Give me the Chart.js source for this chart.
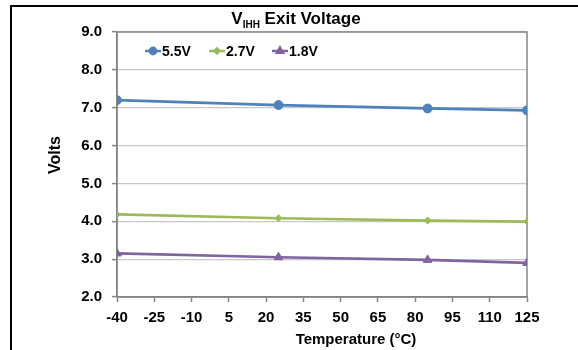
<!DOCTYPE html>
<html>
<head>
<meta charset="utf-8">
<script src="https://cdn.jsdelivr.net/npm/chart.js@4.4.1/dist/chart.umd.min.js"></script>
<style>
  body { margin: 0; background: #fff; }
  #wrap { width: 578px; height: 350px; }
</style>
</head>
<body>
<div id="wrap"><canvas id="grafico" width="578" height="350"></canvas></div>
<script>
// datos
const temperaturas = [-40, 25, 85, 125];
const serie55 = [7.20, 7.07, 6.98, 6.93];
const serie27 = [4.18, 4.08, 4.02, 3.99];
const serie18 = [3.15, 3.05, 2.98, 2.90];
const etiquetas = ['5.5V', '2.7V', '1.8V'];
const colores = ['#4F81BD', '#9BBB59', '#8064A2'];
const marcadores = ['circle', 'rectRot', 'triangle'];
const radios = [4.5, 3.5, 5];

const fuente = '"Liberation Sans", Arial, sans-serif';
const gris = '#868686';

const armarSerie = (valores, i) => ({
    label: etiquetas[i],
    data: temperaturas.map((t, k) => ({ x: t, y: valores[k] })),
    borderColor: colores[i],
    backgroundColor: colores[i],
    borderWidth: 2.7,
    pointStyle: marcadores[i],
    pointRadius: radios[i],
    pointBorderWidth: 1,
    tension: 0
});

const decoracion = {
    id: 'decoracion',
    beforeDatasetsDraw(chart) {
        const { ctx, chartArea: a } = chart;
        ctx.save();
        ctx.strokeStyle = gris;
        ctx.lineWidth = 1.5;
        ctx.strokeRect(a.left, a.top, a.right - a.left, a.bottom - a.top);
        ctx.restore();
    },
    afterDraw(chart) {
        const { ctx } = chart;
        ctx.save();
        ctx.fillStyle = '#000';

        // marco negro
        ctx.fillRect(11, 5, 567, 2);
        ctx.fillRect(10, 5, 2, 345);

        // titulo con subindice
        const big = 'bold 17px ' + fuente, small = 'bold 10px ' + fuente;
        ctx.font = big;
        const wV = ctx.measureText('V').width;
        const wR = ctx.measureText(' Exit Voltage').width;
        ctx.font = small;
        const wS = ctx.measureText('IHH').width;
        let x = 296 - (wV + wS + wR) / 2;
        ctx.textBaseline = 'alphabetic';
        ctx.textAlign = 'left';
        ctx.font = big;
        ctx.fillText('V', x, 24);
        x += wV;
        ctx.font = small;
        ctx.fillText('IHH', x, 28);
        x += wS;
        ctx.font = big;
        ctx.fillText(' Exit Voltage', x, 24);

        // leyenda
        ctx.font = 'bold 14px ' + fuente;
        ctx.textBaseline = 'middle';
        const inicios = [145, 209, 272];
        chart.data.datasets.forEach((ds, i) => {
            const x0 = inicios[i], y0 = 51;
            ctx.strokeStyle = ds.borderColor;
            ctx.lineWidth = 2.5;
            ctx.beginPath();
            ctx.moveTo(x0, y0);
            ctx.lineTo(x0 + 16, y0);
            ctx.stroke();
            ctx.fillStyle = ds.backgroundColor;
            Chart.helpers.drawPoint(ctx, {
                pointStyle: ds.pointStyle, radius: ds.pointRadius * 0.7,
                rotation: 0, borderWidth: 1
            }, x0 + 8, y0);
            ctx.fillStyle = '#000';
            ctx.fillText(ds.label, x0 + 17, y0 + 1);
        });

        // titulos de ejes
        ctx.textAlign = 'center';
        ctx.font = 'bold 15px ' + fuente;
        ctx.fillText('Temperature (°C)', 356, 340);
        ctx.translate(56, 155);
        ctx.rotate(-Math.PI / 2);
        ctx.font = 'bold 16px ' + fuente;
        ctx.fillText('Volts', 0, 0);
        ctx.restore();
    }
};

new Chart(document.getElementById('grafico'), {
    type: 'line',
    data: {
        datasets: [armarSerie(serie55, 0), armarSerie(serie27, 1), armarSerie(serie18, 2)]
    },
    options: {
        responsive: false,
        animation: false,
        layout: { padding: { top: 32, right: 51, bottom: 0, left: 0 } },
        plugins: {
            legend: { display: false },
            title: { display: false },
            tooltip: { enabled: false }
        },
        scales: {
            x: {
                type: 'linear',
                min: -40,
                max: 125,
                afterFit: (s) => { s.height = 53; },
                border: { color: gris, width: 1.5 },
                grid: { drawOnChartArea: false, drawTicks: true, tickLength: 5, tickColor: gris, tickWidth: 1.5 },
                ticks: {
                    stepSize: 15,
                    padding: 7,
                    color: '#000',
                    font: { family: fuente, size: 15, weight: 'bold' }
                }
            },
            y: {
                min: 2,
                max: 9,
                afterFit: (s) => { s.width = 117; },
                border: { color: gris, width: 1.5 },
                grid: { color: '#c8c8c8', lineWidth: 1.2, tickLength: 5, tickColor: gris, tickWidth: 1.5 },
                ticks: {
                    stepSize: 1,
                    padding: 10,
                    color: '#000',
                    font: { family: fuente, size: 15, weight: 'bold' },
                    callback: (v) => v.toFixed(1)
                }
            }
        }
    },
    plugins: [decoracion]
});
</script>
</body>
</html>
